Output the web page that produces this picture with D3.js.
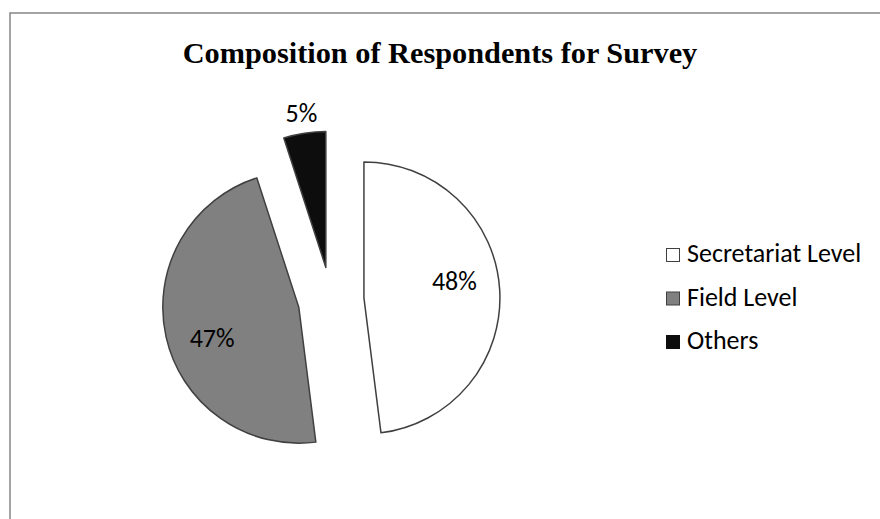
<!DOCTYPE html>
<html><head><meta charset="utf-8">
<script src="https://cdn.jsdelivr.net/npm/d3@7"></script>
<style>body{margin:0;background:#fff} svg{display:block}</style>
</head><body>
<svg id="c" width="880" height="519"></svg>
<script>
const chartTitle = "Composition of Respondents for Survey";
const categories = ["Secretariat Level", "Field Level", "Others"];
const values = [48, 47, 5];
const colors = ["#ffffff", "#808080", "#0d0d0d"];

const svg = d3.select("#c");
const sansFont = "Carlito, Calibri, Lato, 'Noto Sans', sans-serif";

// outer chart border
svg.append("rect")
  .attr("x", 10).attr("y", 13).attr("width", 900).attr("height", 600)
  .attr("fill", "none").attr("stroke", "#868686").attr("stroke-width", 1.5);

svg.append("text")
  .attr("x", 440).attr("y", 63).attr("text-anchor", "middle")
  .style("font-family", "'Liberation Serif','Times New Roman',serif")
  .style("font-weight", "bold").style("font-size", "30.3px")
  .text(chartTitle);

const cx = 331, cy = 300, R = 136, explode = 33;
const total = d3.sum(values);
const pct = d3.format(".0%");
const arcs = d3.pie().sort(null).value(d => d)(values);
const arc = d3.arc().innerRadius(0).outerRadius(R);
const g = svg.append("g").attr("transform", `translate(${cx},${cy})`);

arcs.forEach((p, i) => {
  const mid = (p.startAngle + p.endAngle) / 2;
  const ox = Math.sin(mid) * explode, oy = -Math.cos(mid) * explode;
  const sg = g.append("g").attr("transform", `translate(${ox},${oy})`);
  sg.append("path").attr("d", arc(p))
    .attr("fill", colors[i]).attr("stroke", "#404040")
    .attr("stroke-width", 1.5).attr("stroke-linejoin", "round");
  let a, r;
  if (p.endAngle - p.startAngle > 0.5) { a = mid - 7 * Math.PI / 180; r = 92; }
  else { a = mid; r = 156; }
  sg.append("text")
    .attr("x", Math.sin(a) * r).attr("y", -Math.cos(a) * r)
    .attr("text-anchor", "middle").attr("dy", "0.35em")
    .style("font-family", sansFont).style("font-size", "26px").attr("fill", "#000")
    .text(pct(values[i] / total));
});

const legend = svg.append("g").attr("transform", "translate(666,262)");
categories.forEach((c, i) => {
  const row = legend.append("g").attr("transform", `translate(0,${i * 43.5})`);
  row.append("rect").attr("x", 0.5).attr("y", -13.5).attr("width", 13).attr("height", 13)
    .attr("fill", colors[i]).attr("stroke", i === 2 ? "#0d0d0d" : "#404040").attr("stroke-width", 1);
  row.append("text").attr("x", 21).attr("y", 0)
    .style("font-family", sansFont).style("font-size", "26px").attr("fill", "#000")
    .text(c);
});
</script>
</body></html>
